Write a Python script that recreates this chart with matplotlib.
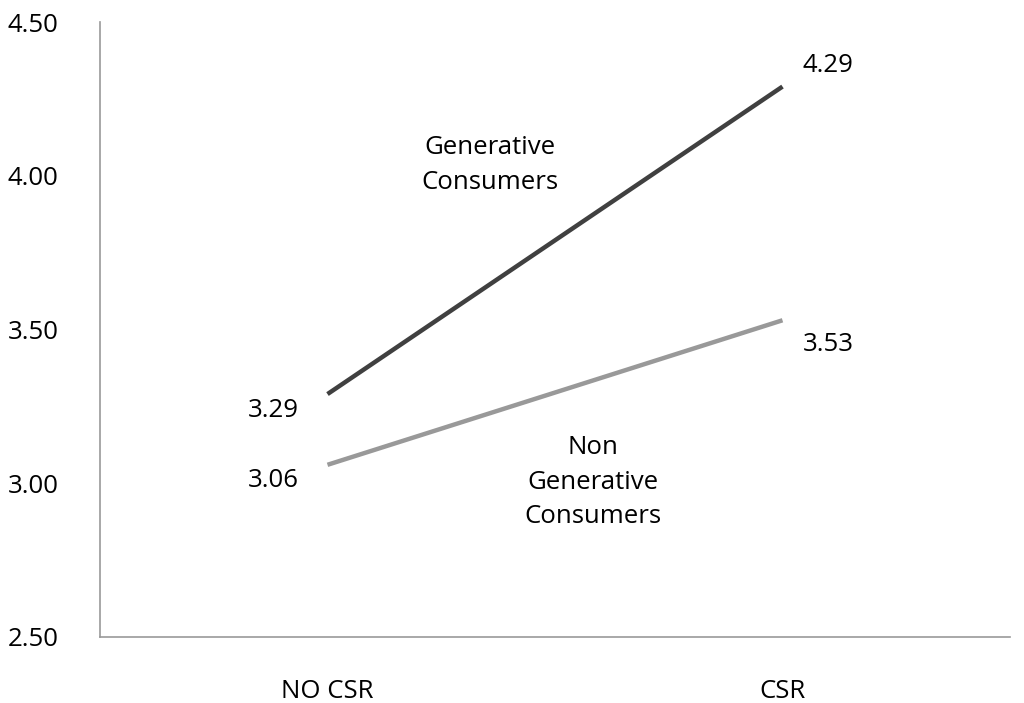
import matplotlib
matplotlib.use("Agg")
import matplotlib.pyplot as plt

categories = ["NO CSR", "CSR"]
generative = [3.29, 4.29]
non_generative = [3.06, 3.53]
yticks = [2.50, 3.00, 3.50, 4.00, 4.50]

plt.rcParams["font.family"] = "Open Sans"
fig = plt.figure(figsize=(10.24, 7.03), dpi=100)
ax = fig.add_axes([100/1024, 1 - 637/703, 910/1024, 615/703])
x = [0, 1]
ax.plot(x, generative, color="#404040", lw=3.2, solid_capstyle="butt")
ax.plot(x, non_generative, color="#999999", lw=3.2, solid_capstyle="butt")
ax.set_xlim(-0.5, 1.5)
ax.set_ylim(2.5, 4.5)
ax.set_xticks(x)
ax.set_xticklabels(categories)
ax.set_yticks(yticks)
ax.set_yticklabels([f"{v:.2f}" for v in yticks])
ax.tick_params(length=0, labelsize=18.5)
ax.tick_params(axis="x", pad=30)
ax.tick_params(axis="y", pad=30)
for s in ["top", "right"]:
    ax.spines[s].set_visible(False)
for s in ["left", "bottom"]:
    ax.spines[s].set_color("#999999")
    ax.spines[s].set_linewidth(1.2)

fs = 18.5
ax.text(-0.12, 3.238, f"{generative[0]:.2f}", ha="center", va="center", fontsize=fs)
ax.text(-0.12, 3.01, f"{non_generative[0]:.2f}", ha="center", va="center", fontsize=fs)
ax.text(1.1, 4.357, f"{generative[1]:.2f}", ha="center", va="center", fontsize=fs)
ax.text(1.1, 3.45, f"{non_generative[1]:.2f}", ha="center", va="center", fontsize=fs)
ax.text(0.357, 4.035, "Generative\nConsumers", ha="center", va="center", fontsize=fs, linespacing=1.5)
ax.text(0.583, 3.004, "Non\nGenerative\nConsumers", ha="center", va="center", fontsize=fs, linespacing=1.5)

fig.savefig("out.png", dpi=100, facecolor="white")
